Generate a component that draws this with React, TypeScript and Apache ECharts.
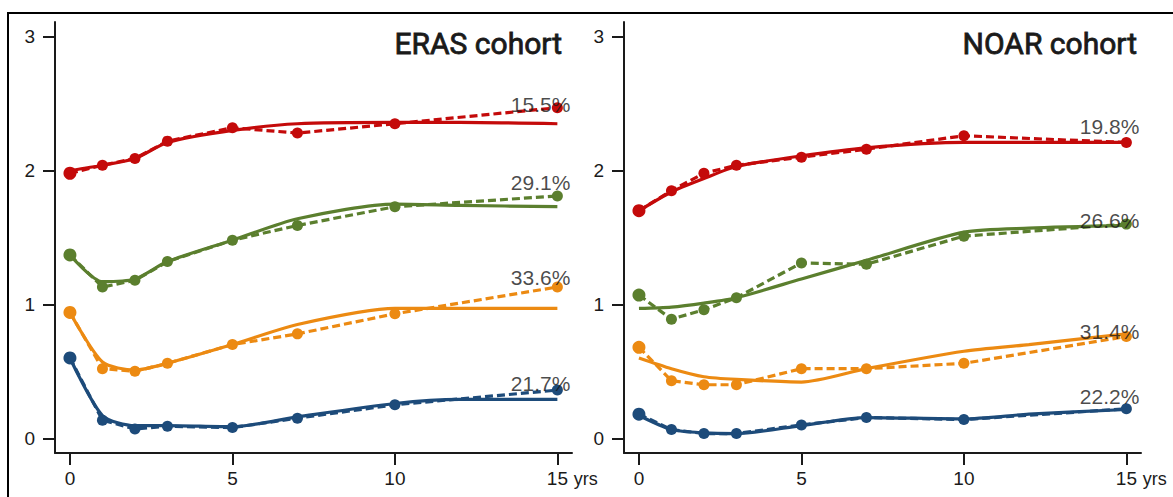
import React, { useEffect, useRef } from "react";
import * as echarts from "echarts";

// Follow-up times (years)
const obsYears = [0, 1, 2, 3, 5, 7, 10, 15];
const fitYears = [0, 1, 2, 3, 5, 7, 10, 12, 15];

const xTicks = [0, 5, 10, 15];
const yTicks = [0, 1, 2, 3];

const groupColors = ["#c40a0a", "#5b7f2e", "#ec8a12", "#1d4b7a"];

// ERAS cohort: observed means (dashed) and fitted trajectories (solid)
const erasObsRed = [1.98, 2.04, 2.09, 2.22, 2.32, 2.28, 2.35, 2.47];
const erasObsGreen = [1.37, 1.13, 1.18, 1.32, 1.48, 1.59, 1.73, 1.81];
const erasObsOrange = [0.94, 0.52, 0.5, 0.56, 0.7, 0.78, 0.93, 1.13];
const erasObsBlue = [0.6, 0.135, 0.07, 0.09, 0.08, 0.15, 0.25, 0.36];

const erasFitRed = [2.0, 2.04, 2.09, 2.21, 2.3, 2.35, 2.36, 2.36, 2.35];
const erasFitGreen = [1.37, 1.17, 1.19, 1.32, 1.48, 1.64, 1.75, 1.74, 1.73];
const erasFitOrange = [0.94, 0.57, 0.51, 0.56, 0.7, 0.85, 0.97, 0.97, 0.97];
const erasFitBlue = [0.6, 0.17, 0.095, 0.095, 0.087, 0.16, 0.26, 0.29, 0.29];

const erasLabels = ["15.5%", "29.1%", "33.6%", "21.7%"];
const erasLabelY = [2.49, 1.91, 1.2, 0.41];

// NOAR cohort
const noarObsRed = [1.7, 1.85, 1.98, 2.04, 2.1, 2.16, 2.26, 2.21];
const noarObsGreen = [1.07, 0.89, 0.96, 1.05, 1.31, 1.3, 1.51, 1.6];
const noarObsOrange = [0.68, 0.43, 0.4, 0.4, 0.52, 0.52, 0.56, 0.76];
const noarObsBlue = [0.18, 0.065, 0.035, 0.035, 0.1, 0.155, 0.14, 0.22];

const noarFitRed = [1.7, 1.84, 1.94, 2.03, 2.11, 2.17, 2.21, 2.21, 2.21];
const noarFitGreen = [0.97, 0.98, 1.01, 1.05, 1.19, 1.33, 1.54, 1.57, 1.59];
const noarFitOrange = [0.6, 0.52, 0.46, 0.44, 0.42, 0.52, 0.65, 0.7, 0.78];
const noarFitBlue = [0.17, 0.065, 0.04, 0.035, 0.095, 0.155, 0.145, 0.18, 0.215];

const noarLabels = ["19.8%", "26.6%", "31.4%", "22.2%"];
const noarLabelY = [2.33, 1.63, 0.8, 0.31];

const panelTitles = ["ERAS cohort", "NOAR cohort"];

const FONT = "'Liberation Sans', Arial, sans-serif";
const INK = "#1a1a1a";

function pairs(xs: number[], ys: number[]) {
  return ys.map((y, i) => [xs[i], y]);
}

function panelSeries(
  gridIndex: number,
  obs: number[][],
  fit: number[][],
  labels: string[],
  labelY: number[]
) {
  const out: any[] = [];
  fit.forEach((ys, g) => {
    out.push({
      type: "line",
      xAxisIndex: gridIndex,
      yAxisIndex: gridIndex,
      data: pairs(fitYears, ys),
      smooth: 0.25,
      symbol: "none",
      lineStyle: { color: groupColors[g], width: 3.2 },
      silent: true,
      z: 2,
    });
  });
  obs.forEach((ys, g) => {
    out.push({
      type: "line",
      xAxisIndex: gridIndex,
      yAxisIndex: gridIndex,
      data: pairs(obsYears, ys),
      symbol: "circle",
      symbolSize: (_v: any, p: any) => (p.dataIndex === 0 ? 13 : 11),
      itemStyle: { color: groupColors[g] },
      lineStyle: { color: groupColors[g], width: 3.2, type: [8, 4] },
      silent: true,
      z: 3,
    });
  });
  out.push({
    type: "scatter",
    xAxisIndex: gridIndex,
    yAxisIndex: gridIndex,
    symbolSize: 0,
    silent: true,
    z: 5,
    data: labels.map((t, i) => ({ name: t, value: [15.4, labelY[i]] })),
    label: {
      show: true,
      formatter: "{b}",
      position: "left",
      distance: 0,
      color: INK,
      fontFamily: FONT,
      fontSize: 21,
    },
  });
  return out;
}

export default function App() {
  const ref = useRef<HTMLDivElement>(null);

  useEffect(() => {
    if (!ref.current) return;
    const chart = echarts.init(ref.current, undefined, { renderer: "svg" });

    const gridLefts = [55, 624];
    const grids = gridLefts.map((left) => ({
      left,
      top: 22,
      width: 517,
      height: 431,
    }));

    const xAxes = gridLefts.map((_l, i) => ({
      type: "value",
      gridIndex: i,
      min: -0.46,
      max: 15.45,
      splitLine: { show: false },
      axisLine: { show: true, onZero: false, lineStyle: { color: INK, width: 2 } },
      axisTick: {
        show: true,
        length: 12,
        customValues: xTicks,
        lineStyle: { color: INK, width: 2 },
      },
      axisLabel: {
        customValues: xTicks,
        margin: 16,
        color: INK,
        fontFamily: FONT,
        fontSize: 19,
      },
      name: "yrs",
      nameLocation: "end",
      nameGap: -2,
      nameTextStyle: {
        color: INK,
        fontFamily: FONT,
        fontSize: 18,
        align: "left",
        verticalAlign: "top",
        padding: [17, 0, 0, 0],
      },
    }));

    const yAxes = gridLefts.map((_l, i) => ({
      type: "value",
      gridIndex: i,
      min: -0.11,
      max: 3.11,
      splitLine: { show: false },
      axisLine: { show: true, onZero: false, lineStyle: { color: INK, width: 2 } },
      axisTick: {
        show: true,
        length: 12,
        customValues: yTicks,
        lineStyle: { color: INK, width: 2 },
      },
      axisLabel: {
        customValues: yTicks,
        margin: 20,
        color: INK,
        fontFamily: FONT,
        fontSize: 19,
      },
    }));

    const series = [
      ...panelSeries(
        0,
        [erasObsRed, erasObsGreen, erasObsOrange, erasObsBlue],
        [erasFitRed, erasFitGreen, erasFitOrange, erasFitBlue],
        erasLabels,
        erasLabelY
      ),
      ...panelSeries(
        1,
        [noarObsRed, noarObsGreen, noarObsOrange, noarObsBlue],
        [noarFitRed, noarFitGreen, noarFitOrange, noarFitBlue],
        noarLabels,
        noarLabelY
      ),
    ];

    // Regular Roboto with a thin outline gives a medium-weight look
    const titleStyle = {
      align: "right",
      verticalAlign: "middle",
      fontFamily: "Roboto, 'Liberation Sans', sans-serif",
      fontWeight: "normal",
      fontSize: 30,
      fill: INK,
      stroke: INK,
      lineWidth: 0.8,
    };

    chart.setOption({
      animation: false,
      backgroundColor: "#ffffff",
      grid: grids,
      xAxis: xAxes,
      yAxis: yAxes,
      series,
      graphic: [
        {
          type: "rect",
          shape: { x: 8, y: 13, width: 1180, height: 500 },
          style: { fill: "none", stroke: "#000", lineWidth: 2 },
          silent: true,
        },
        {
          type: "text",
          x: 562,
          y: 43,
          style: { ...titleStyle, text: panelTitles[0] },
          silent: true,
        },
        {
          type: "text",
          x: 1137,
          y: 43,
          style: { ...titleStyle, text: panelTitles[1] },
          silent: true,
        },
      ],
    });

    return () => chart.dispose();
  }, []);

  return (
    <div
      ref={ref}
      style={{ position: "fixed", left: 0, top: 0, width: 1173, height: 497, background: "#fff" }}
    />
  );
}
